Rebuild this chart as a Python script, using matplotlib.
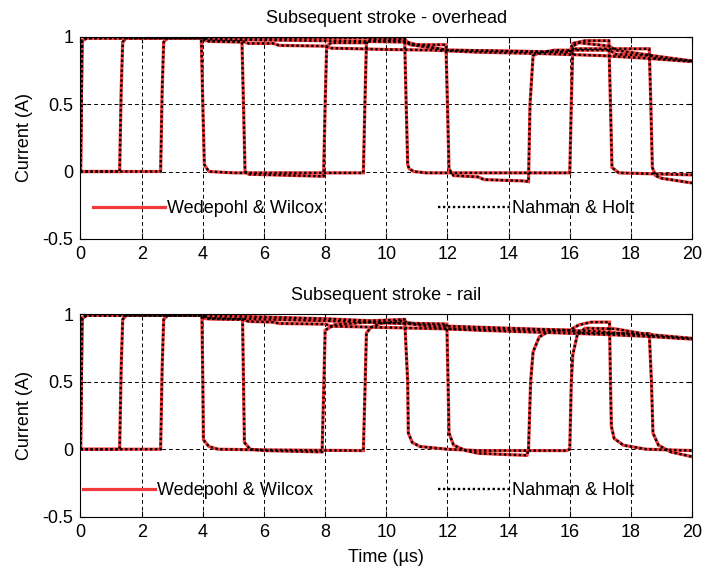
import numpy as np
import matplotlib.pyplot as plt

plt.rcParams['font.family'] = ['Liberation Sans', 'DejaVu Sans']

# ---- overhead line: current (A) vs time (us) ----
oh_a_t = [0, 0.05, 0.2, 3.9, 4.1, 5.3, 5.5, 6.3, 6.5, 8.0, 8.2, 10.0, 11.5, 13.0, 15.0, 17.0, 18.5, 20]
oh_a_i = [0, 0.97, 0.99, 0.99, 0.97, 0.965, 0.95, 0.95, 0.935, 0.93, 0.915, 0.905, 0.90, 0.885, 0.875, 0.86, 0.84, 0.815]

oh_b_t = [0, 1.28, 1.33, 1.38, 1.5, 4.0, 4.2, 8.0, 10.6, 10.8, 11.95, 12.0, 12.05, 12.2, 13.0, 13.2,
          14.5, 14.65, 14.7, 14.8, 15.0, 15.5, 17.3, 17.5, 18.6, 18.8, 20]
oh_b_i = [0, 0, 0.6, 0.96, 0.99, 0.99, 0.98, 0.97, 0.96, 0.94, 0.94, 0.5, 0.02, -0.03, -0.04, -0.06,
          -0.07, -0.075, 0.5, 0.86, 0.88, 0.90, 0.90, 0.87, 0.86, 0.84, 0.82]

oh_c_t = [0, 2.62, 2.67, 2.72, 2.85, 9.3, 10.6, 10.65, 10.7, 10.75, 10.9, 11.3, 16.0, 16.05, 16.1,
          16.3, 17.3, 17.5, 19.0, 20]
oh_c_i = [0, 0, 0.6, 0.96, 0.99, 0.99, 0.99, 0.5, 0.05, 0.02, 0.0, -0.01, -0.01, 0.5, 0.93,
          0.955, 0.93, 0.90, 0.85, 0.82]

oh_d_t = [0, 0.05, 0.2, 3.95, 4.0, 4.05, 4.2, 5.0, 9.25, 9.3, 9.35, 9.45, 10.6, 10.8, 12.0, 16.0,
          16.1, 16.5, 17.28, 17.33, 17.38, 17.6, 20]
oh_d_i = [0, 0.97, 0.99, 0.99, 0.5, 0.05, 0.0, -0.01, -0.01, 0.5, 0.95, 0.98, 0.98, 0.94, 0.90, 0.885,
          0.95, 0.97, 0.97, 0.5, 0.03, -0.01, -0.025]

oh_e_t = [0, 0.05, 0.2, 4.0, 4.2, 5.28, 5.33, 5.38, 5.5, 7.9, 7.95, 8.0, 8.05, 8.2, 9.3, 9.5, 10.5,
          11.0, 12.0, 16.0, 16.2, 18.6, 18.65, 18.7, 18.8, 19.0, 20]
oh_e_i = [0, 0.97, 0.99, 0.99, 0.965, 0.96, 0.5, 0.0, -0.02, -0.035, -0.035, 0.5, 0.93, 0.955, 0.955,
          0.97, 0.97, 0.94, 0.90, 0.885, 0.91, 0.91, 0.5, 0.03, -0.03, -0.05, -0.085]

# ---- rail ----
rl_a_t = [0, 0.05, 0.2, 3.9, 4.1, 5.3, 5.5, 6.3, 6.5, 8.0, 8.2, 10.0, 12.0, 13.0, 15.0, 17.0, 18.5, 20]
rl_a_i = [0, 0.97, 0.99, 0.99, 0.965, 0.96, 0.945, 0.94, 0.93, 0.925, 0.91, 0.90, 0.89, 0.88, 0.865, 0.85, 0.835, 0.815]

rl_b_t = [0, 1.28, 1.33, 1.38, 1.5, 4.0, 4.2, 8.0, 10.0, 11.98, 12.02, 12.05, 12.2, 12.6, 13.0, 14.0,
          14.6, 14.65, 14.72, 14.8, 15.0, 15.3, 15.8, 17.0, 18.5, 20]
rl_b_i = [0, 0, 0.6, 0.96, 0.99, 0.99, 0.97, 0.95, 0.935, 0.926, 0.5, 0.12, 0.03, -0.01, -0.03, -0.04,
          -0.045, 0.0, 0.5, 0.72, 0.83, 0.87, 0.88, 0.87, 0.84, 0.815]

rl_c_t = [0, 2.62, 2.67, 2.72, 2.85, 4.0, 8.0, 9.5, 10.6, 10.7, 10.72, 10.85, 11.1, 12.0, 13.0, 15.9,
          16.0, 16.05, 16.1, 16.25, 16.5, 17.5, 18.5, 20]
rl_c_i = [0, 0, 0.6, 0.96, 0.99, 0.99, 0.965, 0.95, 0.96, 0.5, 0.12, 0.05, 0.02, 0.0, -0.01, -0.01,
          0.0, 0.5, 0.7, 0.85, 0.895, 0.89, 0.85, 0.82]

rl_d_t = [0, 0.05, 0.2, 3.97, 4.0, 4.02, 4.2, 4.5, 6.0, 9.25, 9.31, 9.35, 9.5, 9.8, 10.5, 11.0, 12.0,
          16.0, 16.3, 16.7, 17.3, 17.33, 17.36, 17.45, 17.75, 18.5, 20]
rl_d_i = [0, 0.97, 0.99, 0.99, 0.5, 0.07, 0.02, 0.0, -0.005, -0.01, 0.5, 0.86, 0.90, 0.93, 0.95, 0.92, 0.89,
          0.88, 0.92, 0.94, 0.94, 0.5, 0.17, 0.08, 0.03, 0.0, -0.01]

rl_e_t = [0, 0.05, 0.2, 4.0, 4.2, 5.3, 5.33, 5.36, 5.55, 6.0, 7.9, 7.96, 8.0, 8.3, 9.4, 10.5, 12.0,
          16.0, 16.3, 18.6, 18.67, 18.72, 18.9, 19.3, 20]
rl_e_i = [0, 0.97, 0.99, 0.99, 0.965, 0.96, 0.5, 0.05, 0.0, -0.01, -0.02, 0.5, 0.88, 0.92, 0.94, 0.93, 0.91,
          0.88, 0.86, 0.855, 0.5, 0.12, 0.03, -0.02, -0.055]

overhead = [(oh_a_t, oh_a_i), (oh_b_t, oh_b_i), (oh_c_t, oh_c_i), (oh_d_t, oh_d_i), (oh_e_t, oh_e_i)]
rail = [(rl_a_t, rl_a_i), (rl_b_t, rl_b_i), (rl_c_t, rl_c_i), (rl_d_t, rl_d_i), (rl_e_t, rl_e_i)]

xticks = np.arange(0, 21, 2)
yticks = [-0.5, 0, 0.5, 1]
ytick_labels = ['-0.5', '0', '0.5', '1']

RED = '#f23a3a'
FS = 13

fig = plt.figure(figsize=(7.03, 5.73), dpi=100)
ax1 = fig.add_axes([0.1145, 0.583, 0.870, 0.353])
ax2 = fig.add_axes([0.1145, 0.098, 0.870, 0.354])


def draw_panel(ax, curves, title, leg_x, leg_y, colspace):
    for k, (t, i) in enumerate(curves):
        ax.plot(t, i, color=RED, lw=2.3, solid_joinstyle='miter',
                label='Wedepohl & Wilcox' if k == 0 else '_nolegend_')
    for k, (t, i) in enumerate(curves):
        ax.plot(t, i, color='black', lw=1.7, ls=(0, (1, 1.1)),
                label='Nahman & Holt' if k == 0 else '_nolegend_')
    ax.set_xlim(0, 20)
    ax.set_ylim(-0.5, 1)
    ax.set_xticks(xticks)
    ax.set_yticks(yticks)
    ax.set_yticklabels(ytick_labels)
    ax.grid(True, color='black', lw=0.7, ls=(0, (4, 3)))
    ax.tick_params(direction='in', top=True, right=True, labelsize=FS, length=4, pad=5)
    for s in ax.spines.values():
        s.set_linewidth(0.8)
    ax.set_title(title, fontsize=FS, pad=10)
    ax.set_ylabel('Current (A)', fontsize=FS, labelpad=7)
    ax.legend(loc='center left', bbox_to_anchor=(leg_x, leg_y), ncol=2, frameon=False,
              fontsize=FS, handlelength=4.0, handletextpad=0.1, columnspacing=colspace,
              borderpad=0, borderaxespad=0)


draw_panel(ax1, overhead, 'Subsequent stroke - overhead', 0.02, 0.15, 6.35)
draw_panel(ax2, rail, 'Subsequent stroke - rail', 0.004, 0.13, 6.9)
ax2.set_xlabel('Time (\u00b5s)', fontsize=FS, labelpad=6)

fig.savefig('out.png', dpi=100)
